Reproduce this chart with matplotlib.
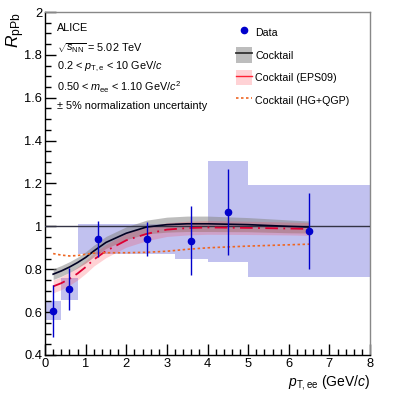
import numpy as np
import matplotlib
matplotlib.use("Agg")
import matplotlib.pyplot as plt
from matplotlib.lines import Line2D
from matplotlib.patches import Patch
from matplotlib.ticker import MultipleLocator, FuncFormatter

plt.rcParams['font.family'] = ['Liberation Sans', 'DejaVu Sans']
plt.rcParams['mathtext.fontset'] = 'custom'
plt.rcParams['mathtext.rm'] = 'Liberation Sans'
plt.rcParams['mathtext.it'] = 'Liberation Sans:italic'
plt.rcParams['mathtext.bf'] = 'Liberation Sans:bold'

# datos ALICE R_pPb
pt = [0.2, 0.6, 1.3, 2.5, 3.6, 4.5, 6.5]
rppb = [0.606, 0.708, 0.943, 0.942, 0.933, 1.068, 0.979]
stat = [0.12, 0.10, 0.084, 0.079, 0.16, 0.20, 0.176]
syst = [0.045, 0.052, 0.07, 0.07, 0.085, 0.235, 0.215]
bin_edges = [0.0, 0.4, 0.8, 1.8, 3.2, 4.0, 5.0, 8.0]

# cocktails
cock_pt = [0.2, 0.4, 0.6, 0.8, 1.0, 1.2, 1.5, 2.0, 2.5, 3.0, 3.5, 4.0, 5.0, 6.0, 6.5]
cock = [0.777, 0.792, 0.81, 0.831, 0.855, 0.885, 0.925, 0.968, 0.997, 1.008, 1.012, 1.012, 1.008, 1.0, 0.997]
cock_err = [0.025, 0.025, 0.025, 0.025, 0.026, 0.027, 0.028, 0.03, 0.032, 0.035, 0.036, 0.036, 0.033, 0.03, 0.028]
eps09 = [0.72, 0.735, 0.755, 0.78, 0.81, 0.845, 0.885, 0.935, 0.965, 0.985, 0.992, 0.995, 0.993, 0.99, 0.988]
eps09_err = [0.03, 0.03, 0.03, 0.03, 0.03, 0.03, 0.031, 0.032, 0.032, 0.032, 0.032, 0.032, 0.031, 0.03, 0.03]
hgqgp = [0.873, 0.866, 0.862, 0.864, 0.87, 0.875, 0.877, 0.877, 0.879, 0.884, 0.893, 0.9, 0.908, 0.914, 0.917]

fig = plt.figure(figsize=(4.07, 3.95), dpi=100)
ax = fig.add_axes([0.1106, 0.1013, 0.7985, 0.8683])

blue = "#0000cc"
# cajas de sistematica
lefts = np.array(bin_edges[:-1])
widths = np.diff(bin_edges)
ax.bar(lefts, 2 * np.array(syst), width=widths, bottom=np.array(rppb) - np.array(syst),
       align='edge', color="#3333cc", alpha=0.3, linewidth=0, zorder=1)

ax.fill_between(cock_pt, np.array(cock) - cock_err, np.array(cock) + cock_err,
                color="#888888", alpha=0.55, linewidth=0, zorder=2)
ax.fill_between(cock_pt, np.array(eps09) - eps09_err, np.array(eps09) + eps09_err,
                color="#ff3344", alpha=0.22, linewidth=0, zorder=2)
ax.axhline(1.0, color="#333344", linewidth=1.0, zorder=3)
ax.plot(cock_pt, cock, color="#000022", linewidth=1.2, zorder=4)
ax.plot(cock_pt, eps09, color="#dd0033", linewidth=1.3, dashes=[7, 3, 1, 3], zorder=4)
ax.plot(cock_pt, hgqgp, color="#ee6622", linewidth=1.2, dashes=[1.5, 1.5], zorder=4)

ax.errorbar(pt, rppb, yerr=stat, fmt='o', color=blue, markersize=4.5,
            elinewidth=1.0, capsize=0, zorder=5)

ax.set_xlim(0, 8)
ax.set_ylim(0.4, 2.0)
ax.xaxis.set_major_locator(MultipleLocator(1))
ax.xaxis.set_minor_locator(MultipleLocator(0.2))
ax.yaxis.set_major_locator(MultipleLocator(0.2))
ax.yaxis.set_minor_locator(MultipleLocator(0.05))
ax.yaxis.set_major_formatter(FuncFormatter(lambda v, p: f"{v:g}"))
ax.tick_params(which='major', direction='in', length=8, width=1, labelsize=9.3, pad=2)
ax.tick_params(which='minor', direction='in', length=4, width=1)
for s in ['top', 'right']:
    ax.spines[s].set_color("#888888")
    ax.spines[s].set_linewidth(1.0)
for s in ['left', 'bottom']:
    ax.spines[s].set_linewidth(1.0)

ax.set_xlabel(r"$p_{\rm T,ee}$ (GeV/$c$)", fontsize=10, loc='right', labelpad=2)
ax.set_ylabel(r"$R_{\rm pPb}$", fontsize=12.5, loc='top', labelpad=-2)

tx = 0.037
lines = ["ALICE",
         r"$\sqrt{s_{\rm NN}}$ = 5.02 TeV",
         r"0.2 < $p_{\rm T,e}$ < 10 GeV/$c$",
         r"0.50 < $m_{\rm ee}$ < 1.10 GeV/$c^2$",
         "\u00b1 5% normalization uncertainty"]
ys = [27.5, 48, 67, 87, 106]
for t, y in zip(lines, ys):
    ax.text(tx, (355 - y) / 343, t, transform=ax.transAxes, fontsize=7.8, va='center', ha='left')

handles = [Line2D([], [], marker='o', linestyle='none', color=blue, markersize=4.5),
           (Patch(facecolor="#888888", alpha=0.55, linewidth=0), Line2D([], [], color="#333333", linewidth=1.3)),
           (Patch(facecolor="#ff3344", alpha=0.22, linewidth=0), Line2D([], [], color="#ff2233", linewidth=1.0)),
           Line2D([], [], color="#ee6622", linewidth=1.2, dashes=[1.5, 1.5])]
labels = ["Data", "Cocktail", "Cocktail (EPS09)", "Cocktail (HG+QGP)"]
ax.legend(handles, labels, loc='upper left', bbox_to_anchor=(0.575, 0.975), frameon=False,
          fontsize=7.7, handlelength=1.5, handleheight=1.85, labelspacing=0.66, handletextpad=0.3,
          borderaxespad=0)

fig.savefig("out.png", dpi=100)
